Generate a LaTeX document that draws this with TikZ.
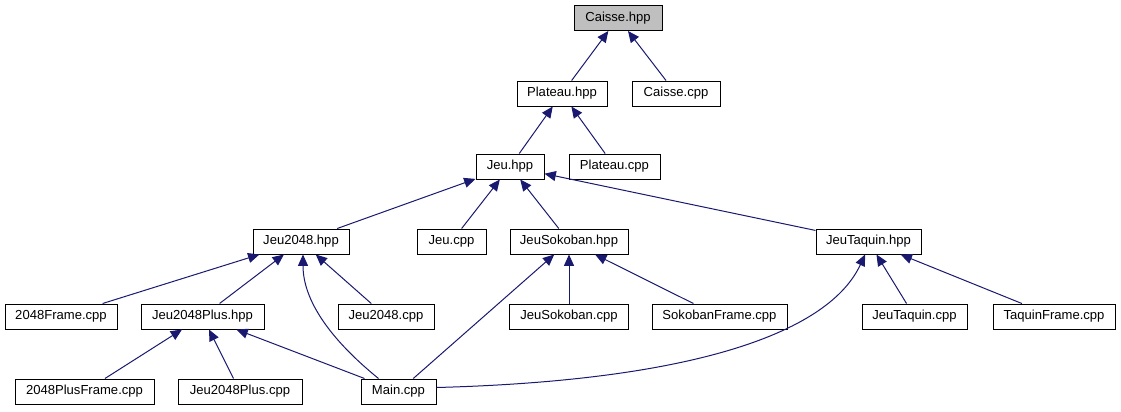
\documentclass[tikz,border=0pt]{standalone}
\usepackage{fontspec}
\setmainfont{Liberation Sans}
\usetikzlibrary{arrows.meta}
\definecolor{edgeblue}{HTML}{191970}
\definecolor{focusgray}{HTML}{BFBFBF}

\begin{document}
\begin{tikzpicture}[x=0.75pt, y=-0.75pt,
  every node/.style={font=\fontsize{9.8}{11}\selectfont},
  file/.style={draw=black, fill=white, line width=0.75pt, inner sep=0pt,
    minimum height=18.75pt, minimum width=#1*0.75pt},
  focus/.style={file=#1, fill=focusgray},
  dep/.style={draw=edgeblue, line width=0.75pt,
    -{Triangle[length=8.5pt, width=7.5pt]}}]
  \useasboundingbox (0,0) rectangle (1121,411);

  % Files
  \node[focus=88] (caisseH) at (618,18) {Caisse.hpp};
  \node[file=90] (plateauH) at (562,93.5) {Plateau.hpp};
  \node[file=88] (caisseC) at (676,93.5) {Caisse.cpp};
  \node[file=68] (jeuH) at (510,166.5) {Jeu.hpp};
  \node[file=91] (plateauC) at (614.5,166.5) {Plateau.cpp};
  \node[file=96] (jeuTwoH) at (301,241.5) {Jeu2048.hpp};
  \node[file=69] (jeuC) at (451.5,241.5) {Jeu.cpp};
  \node[file=118] (sokobanH) at (569,241.5) {JeuSokoban.hpp};
  \node[file=105] (taquinH) at (868.5,241.5) {JeuTaquin.hpp};
  \node[file=112] (frameTwo) at (61,316.5) {2048Frame.cpp};
  \node[file=123] (plusH) at (202.5,316.5) {Jeu2048Plus.hpp};
  \node[file=96] (jeuTwoC) at (386,316.5) {Jeu2048.cpp};
  \node[file=119] (sokobanC) at (569,316.5) {JeuSokoban.cpp};
  \node[file=135] (sokobanF) at (719.5,316.5) {SokobanFrame.cpp};
  \node[file=105] (taquinC) at (914.5,316.5) {JeuTaquin.cpp};
  \node[file=122] (taquinF) at (1054,316.5) {TaquinFrame.cpp};
  \node[file=139] (plusF) at (84.5,391.5) {2048PlusFrame.cpp};
  \node[file=124] (plusC) at (240,391.5) {Jeu2048Plus.cpp};
  \node[file=75] (mainC) at (398.5,391.5) {Main.cpp};

  % Includes
  \draw[dep] (plateauH) -- (caisseH);
  \draw[dep] (caisseC) -- (caisseH);
  \draw[dep] (jeuH) -- (plateauH);
  \draw[dep] (plateauC) -- (plateauH);
  \draw[dep] (jeuTwoH) -- (jeuH);
  \draw[dep] (jeuC) -- (jeuH);
  \draw[dep] (sokobanH) -- (jeuH);
  \draw[dep] (taquinH) -- (jeuH);
  \draw[dep] (frameTwo) -- (jeuTwoH);
  \draw[dep] (plusH) -- (jeuTwoH);
  \draw[dep] (jeuTwoC) -- (jeuTwoH);
  \draw[dep] ([xshift=-15pt]mainC.north) .. controls +(-48,-39) and +(0,46) .. ([xshift=1.5pt]jeuTwoH.south);
  \draw[dep] (plusF) -- (plusH);
  \draw[dep] (plusC) -- (plusH);
  \draw[dep] (mainC) -- (plusH);
  \draw[dep] (mainC) -- (sokobanH);
  \draw[dep] (sokobanC) -- (sokobanH);
  \draw[dep] (sokobanF) -- (sokobanH);
  \draw[dep] ([yshift=3pt]mainC.east) .. controls +(264,-7) and +(-35,76) .. ([xshift=-2.6pt]taquinH.south);
  \draw[dep] (taquinC) -- (taquinH);
  \draw[dep] (taquinF) -- (taquinH);
\end{tikzpicture}
\end{document}
